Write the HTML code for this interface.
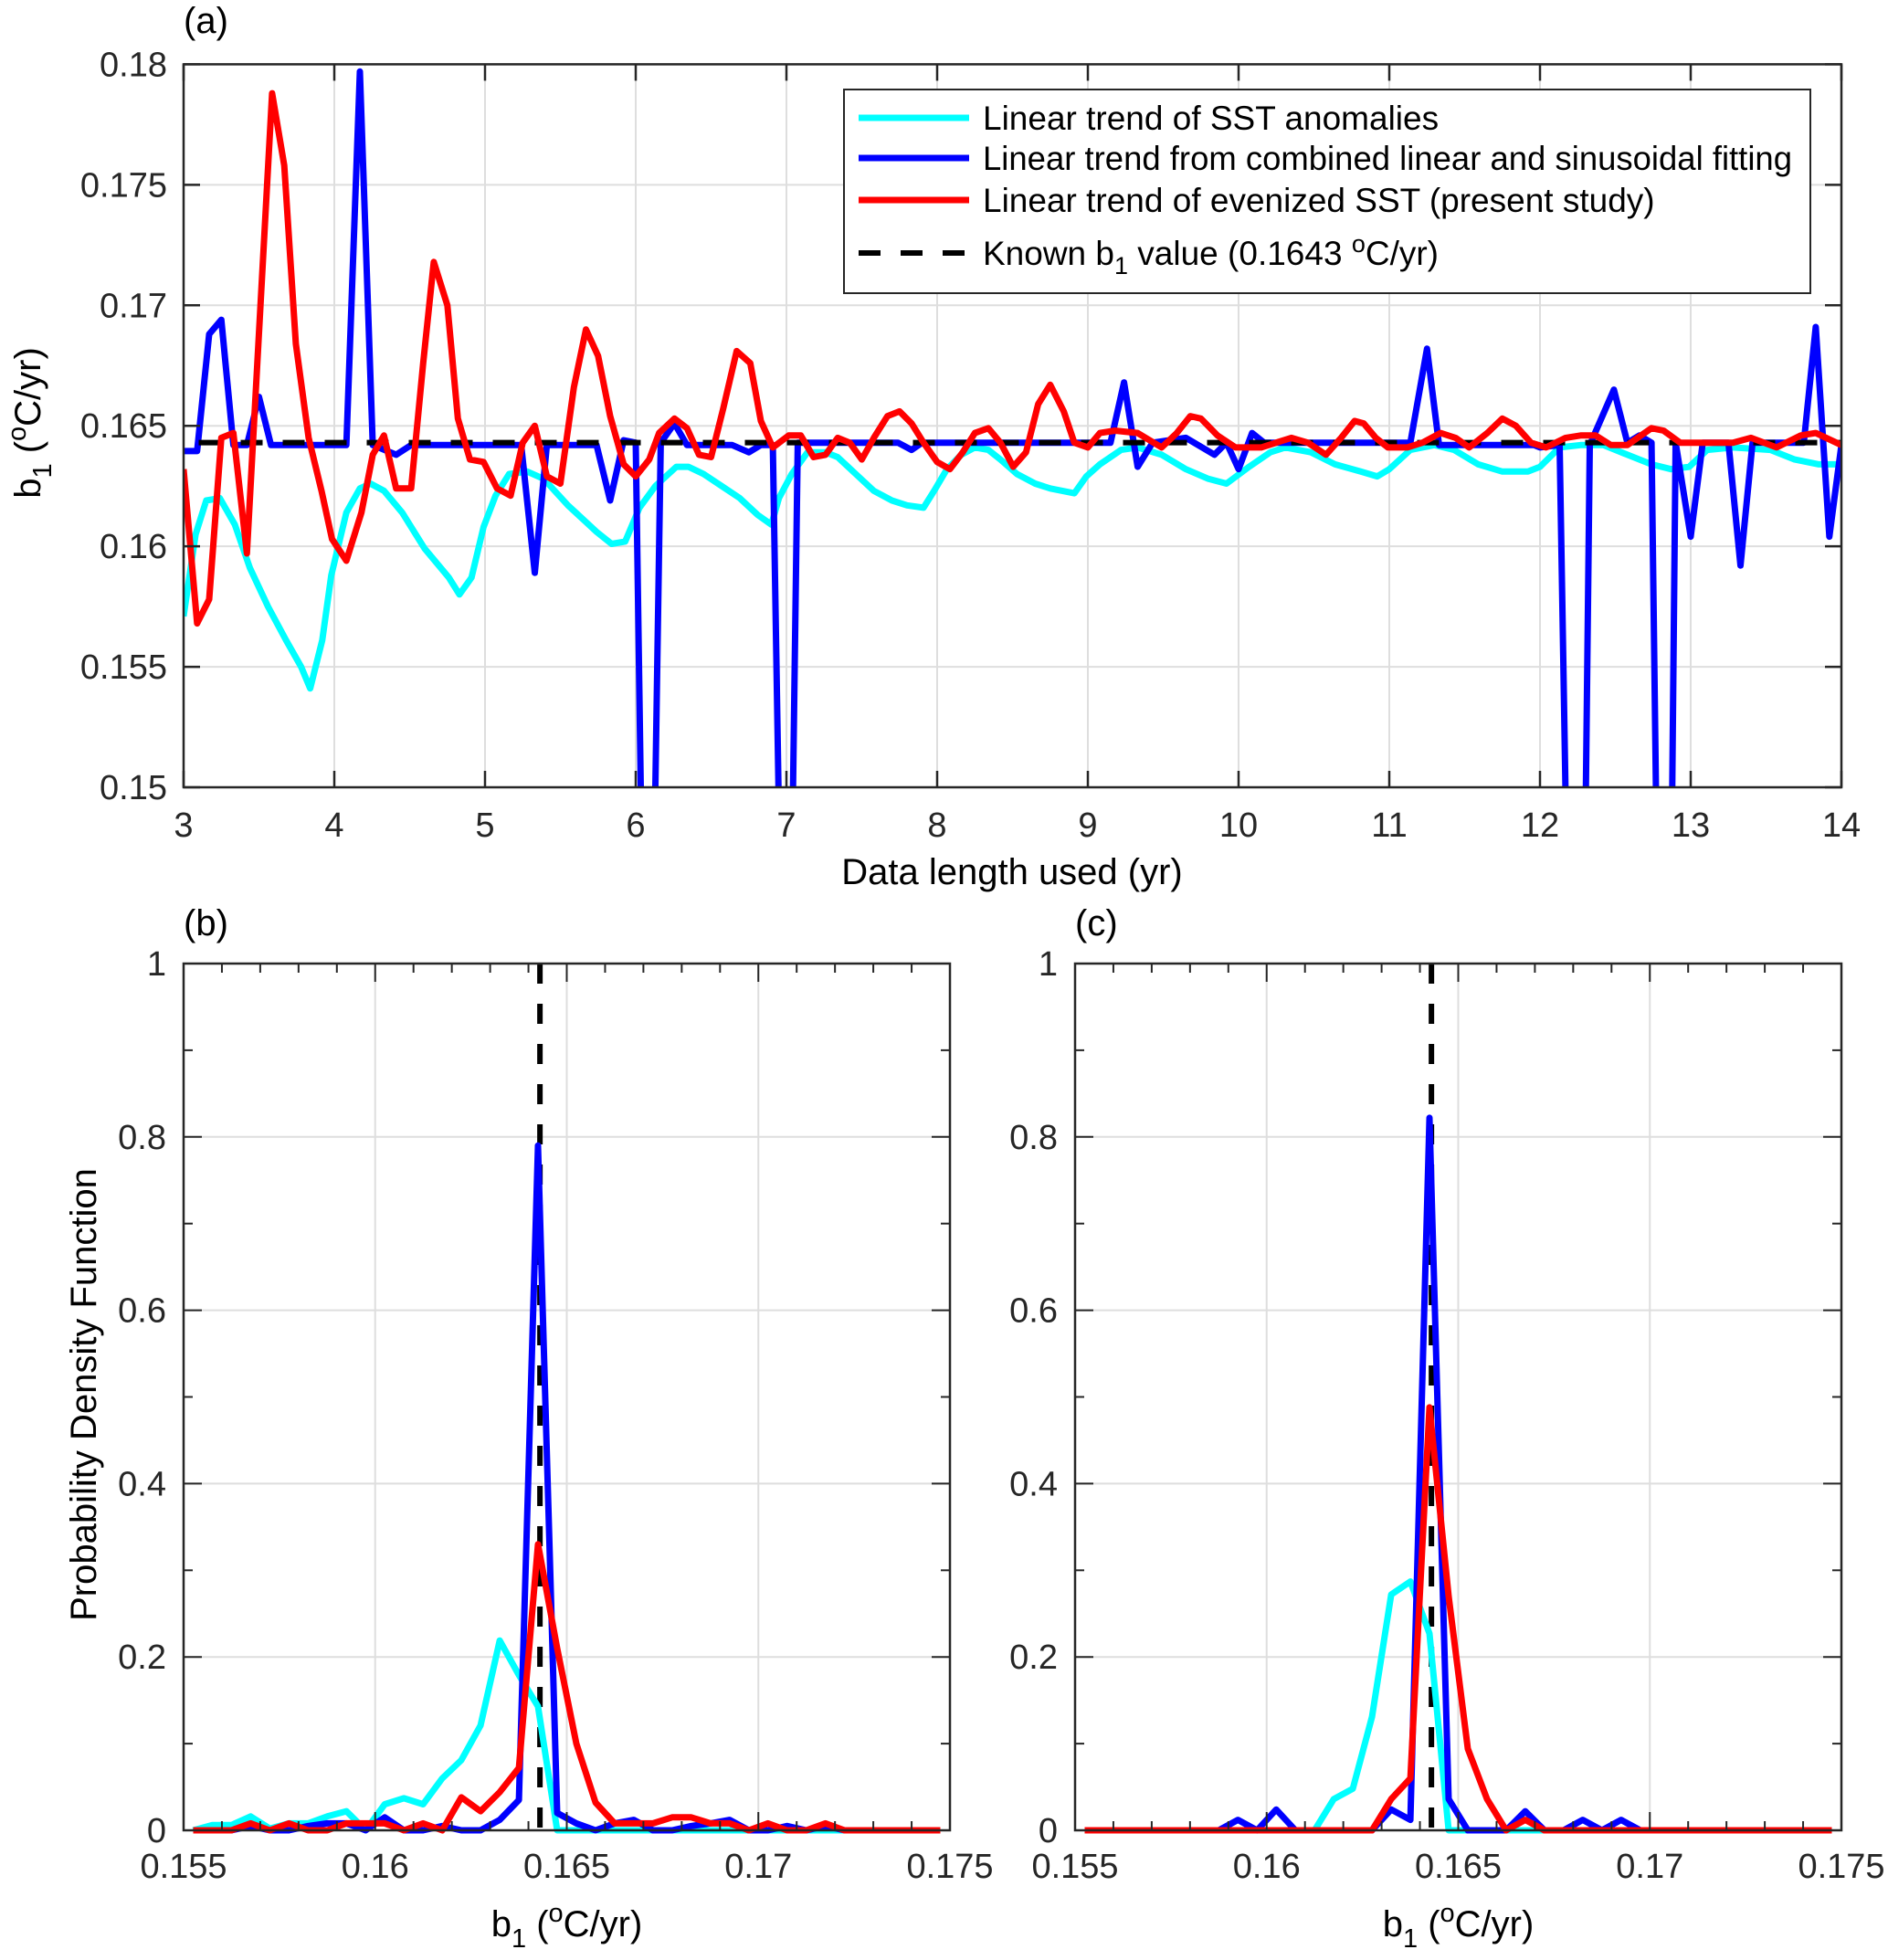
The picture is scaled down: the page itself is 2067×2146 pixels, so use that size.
<!DOCTYPE html>
<html><head><meta charset="utf-8"><title>b1 trend figure</title>
<style>
html,body{margin:0;padding:0;background:#fff;}
svg{display:block;font-family:"Liberation Sans",Arial,sans-serif;}
</style></head>
<body>
<svg id="fig" width="2067" height="2146" viewBox="0 0 2067 2146" xmlns="http://www.w3.org/2000/svg">
<g id="pa"></g>
<g id="pb"></g>
<g id="pc"></g>
</svg>
<script>
// ---------- Panel (a) data ----------
const aXTicks = [3,4,5,6,7,8,9,10,11,12,13,14];
const aYTicks = [0.15,0.155,0.16,0.165,0.17,0.175,0.18];
const aYTickLabels = ["0.15","0.155","0.16","0.165","0.17","0.175","0.18"];
const knownB1 = 0.1643;

const cyanX = [3.0,3.08,3.15,3.24,3.34,3.44,3.56,3.68,3.78,3.84,3.92,3.98,4.08,4.17,4.24,4.33,4.45,4.6,4.76,4.83,4.91,4.99,5.07,5.16,5.28,5.39,5.55,5.74,5.84,5.93,6.025,6.13,6.27,6.35,6.45,6.57,6.69,6.81,6.9,6.95,7.035,7.14,7.26,7.34,7.46,7.58,7.7,7.8,7.91,7.98,8.065,8.16,8.25,8.34,8.42,8.53,8.65,8.75,8.91,8.99,9.08,9.22,9.33,9.49,9.65,9.8,9.92,10.07,10.21,10.31,10.48,10.64,10.81,10.92,11.0,11.14,11.3,11.43,11.59,11.75,11.92,12.0,12.13,12.27,12.42,12.58,12.74,12.87,12.99,13.11,13.28,13.53,13.69,13.85,14.0];
const cyanY = [0.1571,0.1605,0.1619,0.162,0.1609,0.1591,0.1575,0.1561,0.155,0.1541,0.1561,0.1588,0.1614,0.1624,0.1626,0.1623,0.1614,0.1599,0.1587,0.158,0.1587,0.1608,0.1621,0.163,0.1631,0.1628,0.1617,0.1606,0.1601,0.1602,0.1616,0.1625,0.1633,0.1633,0.163,0.1625,0.162,0.1613,0.1609,0.162,0.163,0.1639,0.1639,0.1637,0.163,0.1623,0.1619,0.1617,0.1616,0.1623,0.1632,0.1638,0.1641,0.164,0.1636,0.163,0.1626,0.1624,0.1622,0.1629,0.1634,0.164,0.1641,0.1638,0.1632,0.1628,0.1626,0.1633,0.1639,0.1641,0.1639,0.1634,0.1631,0.1629,0.1632,0.164,0.1642,0.164,0.1634,0.1631,0.1631,0.1633,0.1641,0.1642,0.1642,0.1638,0.1634,0.1632,0.1633,0.164,0.1641,0.164,0.1636,0.1634,0.1634];

const blueX = [3.0,3.09,3.17,3.25,3.33,3.42,3.5,3.58,4.08,4.17,4.255,4.41,4.51,5.24,5.33,5.41,5.74,5.83,5.92,6.0,6.08,6.166,6.257,6.34,6.64,6.75,6.83,6.91,7.0,7.075,7.74,7.83,7.9,9.15,9.24,9.33,9.43,9.65,9.84,9.92,10.0,10.09,10.17,11.14,11.25,11.33,11.96,12.0,12.13,12.25,12.33,12.49,12.58,12.66,12.74,12.83,12.9,13.0,13.08,13.25,13.33,13.41,13.75,13.83,13.92,14.0];
const blueY = [0.16395,0.16395,0.1688,0.1694,0.1642,0.1642,0.1662,0.1642,0.1642,0.1797,0.1642,0.1638,0.1642,0.1642,0.1589,0.1642,0.1642,0.1619,0.1644,0.1643,0.13,0.1643,0.1651,0.1642,0.1642,0.1639,0.1642,0.1642,0.13,0.1643,0.1643,0.164,0.1643,0.1643,0.1668,0.1633,0.1643,0.1645,0.1638,0.1643,0.1632,0.1647,0.1643,0.1643,0.1682,0.1642,0.1642,0.1641,0.1642,0.12,0.1642,0.1665,0.1643,0.1646,0.1643,0.12,0.1643,0.1604,0.1643,0.1643,0.1592,0.1643,0.1643,0.1691,0.1604,0.1642];

const redX = [3.0,3.09,3.17,3.25,3.33,3.42,3.587,3.668,3.745,3.83,3.915,3.985,4.08,4.18,4.255,4.33,4.41,4.51,4.59,4.66,4.75,4.82,4.9,4.99,5.08,5.17,5.25,5.33,5.41,5.5,5.59,5.67,5.75,5.83,5.92,6.0,6.09,6.155,6.257,6.34,6.42,6.5,6.58,6.67,6.76,6.83,6.91,7.015,7.095,7.18,7.26,7.34,7.42,7.5,7.58,7.67,7.75,7.83,7.91,8.0,8.085,8.17,8.25,8.34,8.42,8.505,8.59,8.67,8.75,8.84,8.91,9.0,9.08,9.18,9.33,9.49,9.59,9.68,9.75,9.86,9.98,10.15,10.35,10.46,10.58,10.68,10.77,10.83,10.91,10.99,11.12,11.22,11.34,11.44,11.53,11.65,11.75,11.84,11.94,12.04,12.17,12.27,12.37,12.47,12.58,12.74,12.82,12.93,13.03,13.28,13.4,13.57,13.73,13.83,14.0];
const redY = [0.1632,0.1568,0.1578,0.1645,0.1647,0.1597,0.1788,0.1758,0.1684,0.1645,0.1623,0.1603,0.1594,0.1614,0.1638,0.1646,0.1624,0.1624,0.1676,0.1718,0.17,0.1653,0.1636,0.1635,0.1624,0.1621,0.1643,0.165,0.1629,0.1626,0.1666,0.169,0.1679,0.1654,0.1634,0.1629,0.1636,0.1647,0.1653,0.1649,0.1638,0.1637,0.1657,0.1681,0.1676,0.1652,0.1641,0.1646,0.1646,0.1637,0.1638,0.1645,0.1643,0.1636,0.1645,0.1654,0.1656,0.1651,0.1643,0.1635,0.1632,0.1639,0.1647,0.1649,0.1643,0.1633,0.1639,0.1659,0.1667,0.1656,0.1643,0.1641,0.1647,0.1648,0.1647,0.1641,0.1647,0.1654,0.1653,0.1646,0.1641,0.1641,0.1645,0.1643,0.1638,0.1645,0.1652,0.1651,0.1645,0.1641,0.1641,0.1643,0.1647,0.1645,0.1641,0.1647,0.1653,0.165,0.1643,0.1641,0.1645,0.1646,0.1646,0.1642,0.1642,0.1649,0.1648,0.1643,0.1643,0.1643,0.1645,0.1641,0.1646,0.1647,0.1642];

// ---------- Panels (b),(c) data (bins of 0.0005 starting 0.15525) ----------
const binStart = 0.15525, binStep = 0.0005;
const pdfXTicks = [0.155,0.16,0.165,0.17,0.175];
const pdfXTickLabels = ["0.155","0.16","0.165","0.17","0.175"];
const pdfYTicks = [0,0.2,0.4,0.6,0.8,1];
const pdfYTickLabels = ["0","0.2","0.4","0.6","0.8","1"];
const bCyan = [0,0.006,0.006,0.016,0.002,0.008,0.008,0.016,0.022,0,0.03,0.037,0.03,0.06,0.081,0.121,0.219,0.179,0.143,0,0,0,0,0,0,0,0,0,0,0,0,0,0,0,0,0,0,0,0,0];
const bBlue = [0,0,0,0.005,0,0,0.005,0.008,0.008,0,0.015,0,0,0.005,0,0,0.012,0.035,0.79,0.02,0.008,0,0.008,0.012,0,0,0.005,0.008,0.012,0,0,0.005,0,0.005,0,0,0,0,0,0];
const bRed = [0,0,0,0.008,0,0.008,0,0,0.008,0.008,0.008,0,0.008,0,0.038,0.022,0.044,0.072,0.33,0.21,0.1,0.032,0.008,0.008,0.008,0.015,0.015,0.008,0.008,0,0.008,0,0,0.008,0,0,0,0,0,0];
const cCyan = [0,0,0,0,0,0,0,0,0,0,0,0,0,0.036,0.048,0.131,0.272,0.287,0.227,0,0,0,0,0,0,0,0,0,0,0,0,0,0,0,0,0,0,0,0,0];
const cBlue = [0,0,0,0,0,0,0,0,0.012,0,0.024,0,0,0,0,0,0.024,0.012,0.822,0.036,0,0,0,0.022,0,0,0.012,0,0.012,0,0,0,0,0,0,0,0,0,0,0];
const cRed = [0,0,0,0,0,0,0,0,0,0,0,0,0,0,0,0,0.036,0.06,0.488,0.27,0.094,0.036,0,0.012,0,0,0,0,0,0,0,0,0,0,0,0,0,0,0,0];

const NS = "http://www.w3.org/2000/svg";
const AX = "#262626";
function mk(parent, tag, attrs, text){
  const e = document.createElementNS(NS, tag);
  for (const k in attrs) e.setAttribute(k, attrs[k]);
  if (text !== undefined) e.textContent = text;
  parent.appendChild(e);
  return e;
}
function lin(d0,d1,r0,r1){ return v => r0 + (v-d0)/(d1-d0)*(r1-r0); }
function pathD(xs, ys, sx, sy){
  return xs.map((x,i)=>(i?"L":"M")+sx(x).toFixed(1)+","+sy(ys[i]).toFixed(1)).join(" ");
}

// ===== Panel A =====
(function(){
  const g = document.getElementById("pa");
  const L=201,R=2016,T=70.4,B=862;
  const sx = lin(3,14,L,R), sy = lin(0.15,0.18,B,T);
  mk(g,"defs",{}).innerHTML = '<clipPath id="clipA"><rect x="'+L+'" y="'+T+'" width="'+(R-L)+'" height="'+(B-T)+'"/></clipPath>';
  for (const t of aXTicks){
    const gl = mk(g,"line",{x1:sx(t),x2:sx(t),y1:T,y2:B,stroke:"#dedede","stroke-width":2});
    
    
  }
  for (const t of aYTicks){
    const gl = mk(g,"line",{x1:L,x2:R,y1:sy(t),y2:sy(t),stroke:"#dedede","stroke-width":2});
    
    
  }
  const lines = mk(g,"g",{"clip-path":"url(#clipA)"});
  const series = [[cyanX,cyanY,"#00ffff","cyan-line-a"],[blueX,blueY,"#0000ff","blue-line-a"]];
  for (const s of series){
    const p = mk(lines,"path",{d:pathD(s[0],s[1],sx,sy),fill:"none",stroke:s[2],"stroke-width":7,"stroke-linejoin":"round"});
    
    
  }
  const kl = mk(lines,"line",{x1:sx(3.1),x2:R,y1:sy(knownB1),y2:sy(knownB1),stroke:"#000","stroke-width":6,"stroke-dasharray":"24,22"});
  
  
  const rp = mk(lines,"path",{d:pathD(redX,redY,sx,sy),fill:"none",stroke:"#ff0000","stroke-width":7,"stroke-linejoin":"round"});
  
  
  mk(g,"rect",{x:L,y:T,width:R-L,height:B-T,fill:"none",stroke:AX,"stroke-width":2.5});
  aXTicks.forEach(t=>{
    mk(g,"line",{x1:sx(t),x2:sx(t),y1:B,y2:B-18,stroke:AX,"stroke-width":2.5});
    mk(g,"line",{x1:sx(t),x2:sx(t),y1:T,y2:T+18,stroke:AX,"stroke-width":2.5});
    const tl = mk(g,"text",{x:sx(t),y:916,"font-size":38,fill:AX,"text-anchor":"middle"},String(t));
    
    
  });
  aYTicks.forEach((t,i)=>{
    mk(g,"line",{x1:L,x2:L+18,y1:sy(t),y2:sy(t),stroke:AX,"stroke-width":2.5});
    mk(g,"line",{x1:R,x2:R-18,y1:sy(t),y2:sy(t),stroke:AX,"stroke-width":2.5});
    const tl = mk(g,"text",{x:183,y:sy(t)+13,"font-size":38,fill:AX,"text-anchor":"end"},aYTickLabels[i]);
    
    
  });
  // legend
  const lg = mk(g,"g",{});
  
  
  mk(lg,"rect",{x:924,y:98,width:1058,height:223,fill:"#fff",stroke:AX,"stroke-width":2});
  const ent = [[129,"#00ffff","Linear trend of SST anomalies",null],[173,"#0000ff","Linear trend from combined linear and sinusoidal fitting",null],[219,"#ff0000","Linear trend of evenized SST (present study)",null],[277,"#000","",true]];
  ent.forEach((e,i)=>{
    const le = mk(lg,"g",{});
    
    
    const a = {x1:940,x2:1061,y1:e[0],y2:e[0],stroke:e[1],"stroke-width":e[3]?6:7};
    if (e[3]) a["stroke-dasharray"]="24,22";
    mk(le,"line",a);
    if (!e[3]){
      const ta = {x:1076,y:e[0]+13,"font-size":37,fill:"#000"};
      if (i===1){ ta.textLength = 886; ta.lengthAdjust = "spacingAndGlyphs"; }
      mk(le,"text",ta,e[2]);
    }
    else le.innerHTML += '<text x="1076" y="'+(e[0]+13)+'" font-size="37" fill="#000">Known b<tspan font-size="27" dy="10">1</tspan><tspan dy="-10"> value (0.1643 </tspan><tspan font-size="27" dy="-14">o</tspan><tspan dy="14">C/yr)</tspan></text>';
  });
  const xl = mk(g,"text",{x:1108,y:968,"font-size":40,fill:"#000","text-anchor":"middle"},"Data length used (yr)");
  
  
  const yl = mk(g,"g",{transform:"translate(44,463) rotate(-90)"});
  
  
  yl.innerHTML = '<text x="0" y="0" font-size="40" text-anchor="middle" fill="#000">b<tspan font-size="29" dy="12">1</tspan><tspan dy="-12"> (</tspan><tspan font-size="29" dy="-16">o</tspan><tspan dy="16">C/yr)</tspan></text>';
  const pl = mk(g,"text",{x:201,y:36,"font-size":40,fill:"#000"},"(a)");
  
  
})();

// ===== PDF panels =====
function pdfPanel(gid, L, R, label, cy, bl, rd, showYTitle){
  const g = document.getElementById(gid);
  const T=1055, B=2004;
  const sx = lin(0.155,0.175,L,R), sy = lin(0,1,B,T);
  [0.16,0.165,0.17].forEach(t=>{
    const gl = mk(g,"line",{x1:sx(t),x2:sx(t),y1:T,y2:B,stroke:"#dedede","stroke-width":2});
    
    
  });
  [0.2,0.4,0.6,0.8].forEach(t=>{
    const gl = mk(g,"line",{x1:L,x2:R,y1:sy(t),y2:sy(t),stroke:"#dedede","stroke-width":2});
    
    
  });
  const xs = cy.map((_,i)=>binStart+i*binStep);
  const kl = mk(g,"line",{x1:sx(knownB1),x2:sx(knownB1),y1:T,y2:B,stroke:"#000","stroke-width":6,"stroke-dasharray":"22,22"});
  
  
  [[cy,"#00ffff","cyan-pdf"],[bl,"#0000ff","blue-pdf"],[rd,"#ff0000","red-pdf"]].forEach(s=>{
    const p = mk(g,"path",{d:pathD(xs,s[0],sx,sy),fill:"none",stroke:s[1],"stroke-width":7,"stroke-linejoin":"round"});
    
    
  });
  mk(g,"rect",{x:L,y:T,width:R-L,height:B-T,fill:"none",stroke:AX,"stroke-width":2.5});
  for (let k=0;k<=20;k++){
    const t = 0.155+k*0.001, len = (k%5===0)?20:10;
    mk(g,"line",{x1:sx(t),x2:sx(t),y1:B,y2:B-len,stroke:AX,"stroke-width":2});
    mk(g,"line",{x1:sx(t),x2:sx(t),y1:T,y2:T+len,stroke:AX,"stroke-width":2});
  }
  for (let k=0;k<=10;k++){
    const t = k*0.1, len = (k%2===0)?20:10;
    mk(g,"line",{x1:L,x2:L+len,y1:sy(t),y2:sy(t),stroke:AX,"stroke-width":2});
    mk(g,"line",{x1:R,x2:R-len,y1:sy(t),y2:sy(t),stroke:AX,"stroke-width":2});
  }
  pdfXTicks.forEach((t,i)=>{
    const tl = mk(g,"text",{x:sx(t),y:2056,"font-size":38,fill:AX,"text-anchor":"middle"},pdfXTickLabels[i]);
    
    
  });
  pdfYTicks.forEach((t,i)=>{
    const tl = mk(g,"text",{x:L-19,y:sy(t)+13,"font-size":38,fill:AX,"text-anchor":"end"},pdfYTickLabels[i]);
    
    
  });
  const xl = mk(g,"g",{});
  
  
  xl.innerHTML = '<text x="'+((L+R)/2)+'" y="2120" font-size="40" text-anchor="middle" fill="#000">b<tspan font-size="29" dy="12">1</tspan><tspan dy="-12"> (</tspan><tspan font-size="29" dy="-16">o</tspan><tspan dy="16">C/yr)</tspan></text>';
  if (showYTitle){
    const yt = mk(g,"text",{transform:"translate(105,1527) rotate(-90)","font-size":40,fill:"#000","text-anchor":"middle"},"Probability Density Function");
    
    
  }
  const pl = mk(g,"text",{x:L,y:1024,"font-size":40,fill:"#000"},label);
  
  
}
pdfPanel("pb",201,1040,"(b)",bCyan,bBlue,bRed,true);
pdfPanel("pc",1177,2016,"(c)",cCyan,cBlue,cRed,false);
</script>
</body></html>
